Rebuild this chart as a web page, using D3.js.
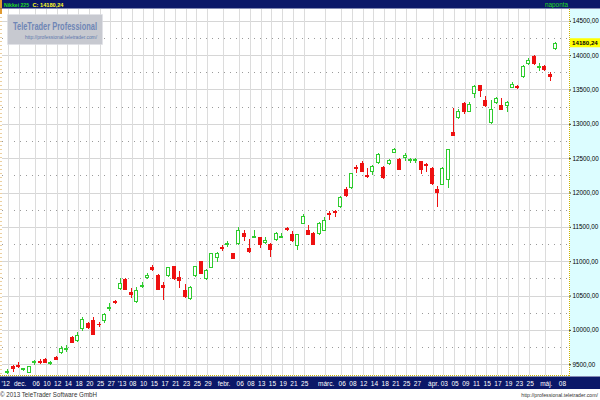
<!DOCTYPE html>
<html><head><meta charset="utf-8">
<script src="https://cdn.jsdelivr.net/npm/d3@7"></script>
<style>body{margin:0;background:#fff}svg{display:block;font-family:"Liberation Sans",Arial,sans-serif}</style>
</head><body><svg id="c" width="600" height="400"></svg>
<script>
const dates = ["2012-11-29","2012-11-30","2012-12-03","2012-12-04","2012-12-05","2012-12-06","2012-12-07","2012-12-10","2012-12-11","2012-12-12","2012-12-13","2012-12-14","2012-12-17","2012-12-18","2012-12-19","2012-12-20","2012-12-21","2012-12-25","2012-12-26","2012-12-27","2012-12-28",
"2013-01-04","2013-01-07","2013-01-08","2013-01-09","2013-01-10","2013-01-11","2013-01-15","2013-01-16","2013-01-17","2013-01-18","2013-01-21","2013-01-22","2013-01-23","2013-01-24","2013-01-25","2013-01-28","2013-01-29","2013-01-30","2013-01-31",
"2013-02-01","2013-02-04","2013-02-05","2013-02-06","2013-02-07","2013-02-08","2013-02-12","2013-02-13","2013-02-14","2013-02-15","2013-02-18","2013-02-19","2013-02-20","2013-02-21","2013-02-22","2013-02-25","2013-02-26","2013-02-27","2013-02-28",
"2013-03-01","2013-03-04","2013-03-05","2013-03-06","2013-03-07","2013-03-08","2013-03-11","2013-03-12","2013-03-13","2013-03-14","2013-03-15","2013-03-18","2013-03-19","2013-03-21","2013-03-22","2013-03-25","2013-03-26","2013-03-27","2013-03-28","2013-03-29",
"2013-04-01","2013-04-02","2013-04-03","2013-04-04","2013-04-05","2013-04-08","2013-04-09","2013-04-10","2013-04-11","2013-04-12","2013-04-15","2013-04-16","2013-04-17","2013-04-18","2013-04-19","2013-04-22","2013-04-23","2013-04-24","2013-04-25","2013-04-26","2013-04-30",
"2013-05-01","2013-05-02","2013-05-07"];
const open  = [9385,9470,9490,9425,9390,9530,9550,9580,9515,9600,9680,9725,9895,9850,10030,10100,10150,10090,10140,10315,10420,
10604,10745,10545,10420,10640,10775,10915,10800,10650,10800,10930,10775,10580,10460,10800,11000,10755,10920,11065,
11210,11250,11120,11260,11410,11185,11360,11345,11275,11255,11318,11365,11490,11400,11235,11560,11460,11415,11405,
11460,11700,11730,11800,12045,12075,12375,12435,12255,12320,12440,12375,12425,12590,12495,12520,12485,12485,12455,12420,
12360,12050,12130,12190,12880,13095,13305,13190,13445,13560,13345,13030,13320,13270,13275,13540,13545,13690,13890,13985,13835,
13840,13730,14100];
const high  = [9425,9485,9530,9450,9478,9565,9570,9595,9545,9615,9760,9775,9905,9970,10180,10120,10180,10115,10240,10385,10440,
10750,10750,10610,10625,10690,10830,10950,10810,10700,10920,10935,10855,10675,10640,10935,11005,10890,11120,11135,
11230,11290,11125,11500,11450,11330,11460,11355,11350,11265,11420,11410,11500,11440,11395,11680,11525,11420,11570,
11640,11730,11750,11945,12073,12290,12400,12460,12350,12400,12580,12380,12485,12645,12500,12580,12500,12500,12465,12430,
12375,12095,12370,12640,13225,13210,13320,13320,13565,13570,13400,13345,13390,13370,13330,13610,13560,13850,13965,13995,13885,
13850,13760,14195];
const low   = [9365,9400,9455,9418,9385,9510,9515,9525,9505,9575,9670,9690,9820,9845,10005,10030,9935,10050,10115,10285,10390,
10590,10595,10480,10410,10625,10750,10865,10595,10450,10790,10745,10625,10485,10450,10790,10825,10740,10910,11000,
11160,11215,11040,11250,11305,11135,11355,11210,11260,11075,11310,11345,11455,11300,11175,11550,11390,11250,11395,
11455,11620,11665,11790,11946,12065,12300,12310,12230,12275,12430,12215,12410,12585,12335,12480,12445,12445,12285,12310,
12130,11805,12120,12080,12830,13080,13160,13180,13395,13400,13260,13010,13310,13210,13185,13530,13520,13680,13870,13870,13780,
13785,13640,14095];
const close = [9400,9446,9470,9440,9468,9545,9527,9533,9525,9581,9742,9737,9828,9923,10160,10045,9945,10080,10230,10330,10400,
10688,10600,10515,10578,10652,10795,10890,10600,10620,10910,10750,10720,10490,10625,10925,10830,10870,11113,11125,
11190,11262,11050,11460,11360,11155,11369,11252,11310,11173,11408,11372,11470,11310,11390,11665,11398,11254,11559,
11606,11680,11710,11932,11968,12285,12350,12315,12240,12381,12560,12225,12470,12638,12340,12546,12495,12494,12336,12398,
12135,12003,12362,12634,12833,13190,13190,13290,13545,13488,13275,13221,13383,13220,13316,13580,13530,13843,13926,13884,13845,
13799,13700,14180.24];

const xTickDates  = ["2012-11-29","2012-12-03","2012-12-06","2012-12-10","2012-12-12","2012-12-14","2012-12-18","2012-12-20","2012-12-25","2012-12-27",
"2013-01-04","2013-01-08","2013-01-10","2013-01-15","2013-01-17","2013-01-21","2013-01-23","2013-01-25","2013-01-29",
"2013-02-01","2013-02-06","2013-02-08","2013-02-13","2013-02-15","2013-02-19","2013-02-21","2013-02-25",
"2013-03-01","2013-03-06","2013-03-08","2013-03-12","2013-03-14","2013-03-18","2013-03-21","2013-03-25","2013-03-27",
"2013-04-01","2013-04-03","2013-04-05","2013-04-09","2013-04-11","2013-04-15","2013-04-17","2013-04-19","2013-04-23","2013-04-25",
"2013-05-01","2013-05-08"];
const xTickLabels = ["'12","dec.","06","10","12","14","18","20","25","27",
"'13","08","10","15","17","21","23","25","29",
"febr.","06","08","13","15","19","21","25",
"márc.","06","08","12","14","18","21","25","27",
"ápr.","03","05","09","11","15","17","19","23","25",
"máj.","08"];
const yTicks = [9500,10000,10500,11000,11500,12000,12500,13000,13500,14000,14500];
const yMinorTicks = [9750,10250,10750,11250,11750,12250,12750,13250,13750,14250];
const symbolName = "Nikkei 225";
const lastLabel = "C: 14180,24";
const lastValue = 14180.24;
const periodLabel = "naponta";

const svg = d3.select("#c");
const NAVY = "#0b1868", GREEN = "#2fcc2f", RED = "#ee1111";

const domain = Array.from(new Set(dates.concat(xTickDates))).sort();
const x = d3.scalePoint().domain(domain).range([7.3, 560.4]);
const y = d3.scaleLinear().domain([9500, 14500]).range([364.2, 20.8]);
const loc = d3.formatLocale({decimal: ",", thousands: "", grouping: [3], currency: ["", ""]});
const fmt = loc.format(".2f");

// backgrounds
svg.append("rect").attr("width", 600).attr("height", 400).attr("fill", "#fff");
svg.append("rect").attr("x", 570).attr("y", 9).attr("width", 30).attr("height", 367).attr("fill", "#dcfdff");

// grid
const grid = svg.append("g");
grid.selectAll(".hg").data(yTicks).join("line")
  .attr("x1", 2).attr("x2", 569).attr("y1", d => Math.round(y(d)) + 0.5).attr("y2", d => Math.round(y(d)) + 0.5)
  .attr("stroke", "#d6d6d6");
grid.selectAll(".hm").data(yMinorTicks).join("line")
  .attr("x1", 2).attr("x2", 569).attr("y1", d => Math.round(y(d)) + 0.5).attr("y2", d => Math.round(y(d)) + 0.5)
  .attr("stroke", "#9a9a9a").attr("stroke-dasharray", "1,5");
grid.selectAll(".vg").data(xTickDates).join("line")
  .attr("x1", d => Math.round(x(d)) + 1.5).attr("x2", d => Math.round(x(d)) + 1.5)
  .attr("y1", 9).attr("y2", 375).attr("stroke", "#dcdcdc");

// left edge
svg.append("line").attr("x1", 1).attr("x2", 1).attr("y1", 9).attr("y2", 376)
  .attr("stroke", "#d9a040").attr("stroke-dasharray", "1,3");
svg.append("rect").attr("x", 0).attr("y", 0).attr("width", 2).attr("height", 14).attr("fill", "#e09a30");

// watermark box
svg.append("rect").attr("x", 7.5).attr("y", 14.5).attr("width", 95).attr("height", 30)
  .attr("fill", "#c7c9d0").attr("stroke", "#dfe1e6").attr("stroke-dasharray", "1,1");
svg.append("text").attr("x", 13).attr("y", 29.5).attr("font-size", 10.5).attr("font-weight", "bold")
  .attr("fill", "#6f86b6").attr("textLength", 84).attr("lengthAdjust", "spacingAndGlyphs").text("TeleTrader Professional");
svg.append("text").attr("x", 25).attr("y", 38.5).attr("font-size", 5.5)
  .attr("fill", "#5f79ad").attr("textLength", 72).attr("lengthAdjust", "spacingAndGlyphs").text("http://professional.teletrader.com/");

// candles
const data = dates.map((d, i) => ({d, o: open[i], h: high[i], l: low[i], c: close[i]}));
const cg = svg.append("g");
data.forEach(k => {
  const cx = Math.round(x(k.d));
  const up = k.c >= k.o;
  const col = up ? GREEN : RED;
  cg.append("line").attr("x1", cx + 0.5).attr("x2", cx + 0.5)
    .attr("y1", Math.round(y(k.h))).attr("y2", Math.round(y(k.l)) + 1).attr("stroke", col);
  const top = Math.round(y(Math.max(k.o, k.c)));
  const bot = Math.round(y(Math.min(k.o, k.c)));
  if (up) {
    cg.append("rect").attr("x", cx - 1.5).attr("y", top + 0.5).attr("width", 3).attr("height", Math.max(1, bot - top))
      .attr("fill", "#fff").attr("stroke", col);
  } else {
    cg.append("rect").attr("x", cx - 2).attr("y", top).attr("width", 4).attr("height", Math.max(1, bot - top + 1))
      .attr("fill", col);
  }
});

// right axis
const ra = svg.append("g").attr("transform", "translate(569,0)")
  .call(d3.axisRight(y).tickValues(yTicks).tickSize(2).tickPadding(1.5).tickFormat(fmt));
ra.select(".domain").remove();
ra.selectAll("line").attr("stroke", "#333");
ra.selectAll("text").attr("font-size", 6.3).attr("fill", "#000").attr("font-family", "Liberation Sans, Arial");
svg.append("line").attr("x1", 569.5).attr("x2", 569.5).attr("y1", 9).attr("y2", 376)
  .attr("stroke", "#c8b400").attr("stroke-dasharray", "1,1");
// last value marker
svg.append("rect").attr("x", 570).attr("y", y(lastValue) - 4.5).attr("width", 30).attr("height", 9).attr("fill", "#ffff00");
svg.append("text").attr("x", 572).attr("y", y(lastValue) + 2.3).attr("font-size", 6.2).attr("font-weight", "bold")
  .attr("fill", "#000").text(fmt(lastValue));

// bottom band
svg.append("line").attr("x1", 0).attr("x2", 570).attr("y1", 375.5).attr("y2", 375.5)
  .attr("stroke", "#c8b400").attr("stroke-dasharray", "1,1");
svg.append("rect").attr("x", 0).attr("y", 376.5).attr("width", 600).attr("height", 12.5).attr("fill", NAVY);
const ba = svg.append("g").attr("transform", "translate(0,386)")
  .call(d3.axisBottom(x).tickValues(xTickDates).tickSize(0).tickFormat((d, i) => xTickLabels[i]));
ba.select(".domain").remove();
ba.selectAll("text").attr("y", 0).attr("dy", 0).attr("dx", 1.5).attr("font-size", 6.5)
  .attr("fill", "#fff").attr("font-family", "Liberation Sans, Arial");
ba.selectAll("text").filter((d, i) => i === 0).attr("text-anchor", "start").attr("dx", -6.3);

// top bar
svg.append("rect").attr("x", 0).attr("y", 0).attr("width", 600).attr("height", 8.5).attr("fill", NAVY);
svg.append("rect").attr("x", 0).attr("y", 0).attr("width", 2).attr("height", 8.5).attr("fill", "#e09a30");
svg.append("text").attr("x", 4).attr("y", 7).attr("font-size", 6).attr("font-weight", "bold").attr("fill", "#22dd22")
  .attr("textLength", 25).attr("lengthAdjust", "spacingAndGlyphs").text(symbolName);
svg.append("text").attr("x", 32.5).attr("y", 7).attr("font-size", 6).attr("font-weight", "bold").attr("fill", "#ffff22")
  .attr("textLength", 31).attr("lengthAdjust", "spacingAndGlyphs").text(lastLabel);
svg.append("text").attr("x", 545).attr("y", 7).attr("font-size", 6.5).attr("fill", "#22dd22")
  .attr("textLength", 23).attr("lengthAdjust", "spacingAndGlyphs").text(periodLabel);

// footer
svg.append("text").attr("x", 0).attr("y", 397).attr("font-size", 6.8).attr("fill", "#333")
  .attr("textLength", 97).attr("lengthAdjust", "spacingAndGlyphs").text("© 2013 TeleTrader Software GmbH");
svg.append("text").attr("x", 598).attr("y", 397).attr("text-anchor", "end").attr("font-size", 5.2).attr("fill", "#333")
  .text("http://professional.teletrader.com/");
</script></body></html>
